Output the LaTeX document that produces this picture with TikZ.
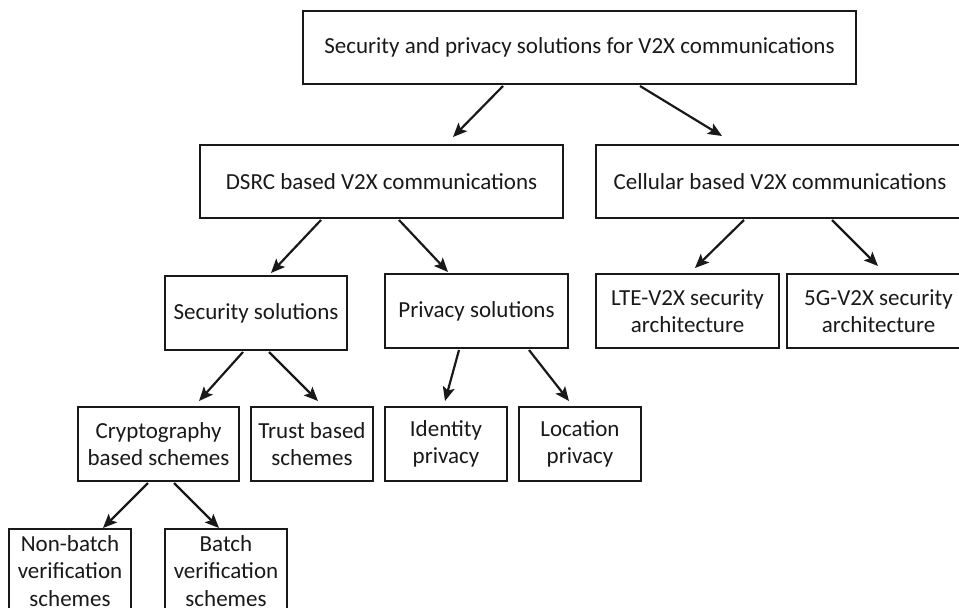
\documentclass[tikz,border=0pt]{standalone}
\usepackage{fontspec}
\setmainfont{Carlito}
\usetikzlibrary{arrows.meta,calc}
\tikzset{
  box/.style={draw=black!90, line width=2.6pt, inner sep=0pt, outer sep=0pt, align=center,
    font=\fontsize{23}{27.6}\selectfont, text=black!90},
  arr/.style={line width=2.2pt, draw=black!90, -{Stealth[length=14pt,width=12pt,inset=3pt]}}
}
\begin{document}
\begin{tikzpicture}[x=1pt,y=-1pt]
\useasboundingbox (0,0) rectangle (959,608);
\clip (0,0) rectangle (959,608);
\node[box, minimum width=553, minimum height=73] (top) at (579.5,47.5) {Security and privacy solutions for V2X communications};
\node[box, minimum width=363, minimum height=73] (dsrc) at (381.5,181.5) {DSRC based V2X communications};
\node[box, minimum width=368, minimum height=73] (cell) at (780,181.5) {Cellular based V2X communications};
\node[box, minimum width=182, minimum height=74] (sec) at (256,313) {Security solutions};
\node[box, minimum width=183, minimum height=74] (priv) at (476.5,311) {Privacy solutions};
\node[box, minimum width=183, minimum height=74] (lte) at (687.5,311) {LTE-V2X security\\architecture};
\node[box, minimum width=183, minimum height=74] (fiveg) at (878.5,311) {5G-V2X security\\architecture};
\node[box, minimum width=161, minimum height=74] (crypto) at (158.5,444) {Cryptography\\based schemes};
\node[box, minimum width=122, minimum height=74] (trust) at (312,444) {Trust based\\schemes};
\node[box, minimum width=122, minimum height=74] (ident) at (446,444) {Identity\\privacy};
\node[box, minimum width=122, minimum height=74] (loc) at (580,444) {Location\\privacy};
\node[box, minimum width=122, minimum height=84] (nonb) at (70,571) {Non-batch\\verification\\schemes};
\node[box, minimum width=122, minimum height=84] (batch) at (226,571) {Batch\\verification\\schemes};
\draw[arr] ($(top.south west)+(200,2)$) -- ($(dsrc.north west)+(253,-8)$);
\draw[arr] ($(top.south west)+(337,2)$) -- ($(cell.north west)+(126,-9)$);
\draw[arr] ($(dsrc.south west)+(121,2)$) -- ($(sec.north west)+(106,-3)$);
\draw[arr] ($(dsrc.south west)+(199,2)$) -- ($(priv.north west)+(63,-2)$);
\draw[arr] ($(cell.south west)+(148,2)$) -- ($(lte.north west)+(99,-6)$);
\draw[arr] ($(cell.south west)+(236,2)$) -- ($(fiveg.north west)+(91,-8)$);
\draw[arr] ($(sec.south west)+(78,2)$) -- ($(crypto.north west)+(121,-6)$);
\draw[arr] ($(sec.south west)+(104,2)$) -- ($(trust.north west)+(67,-6)$);
\draw[arr] ($(priv.south west)+(74,2)$) -- ($(ident.north west)+(60,-6)$);
\draw[arr] ($(priv.south west)+(144,2)$) -- ($(loc.north west)+(50,-6)$);
\draw[arr] ($(crypto.south west)+(70,2)$) -- ($(nonb.north west)+(94,-1)$);
\draw[arr] ($(crypto.south west)+(96,2)$) -- ($(batch.north west)+(54,-1)$);
\end{tikzpicture}
\end{document}
